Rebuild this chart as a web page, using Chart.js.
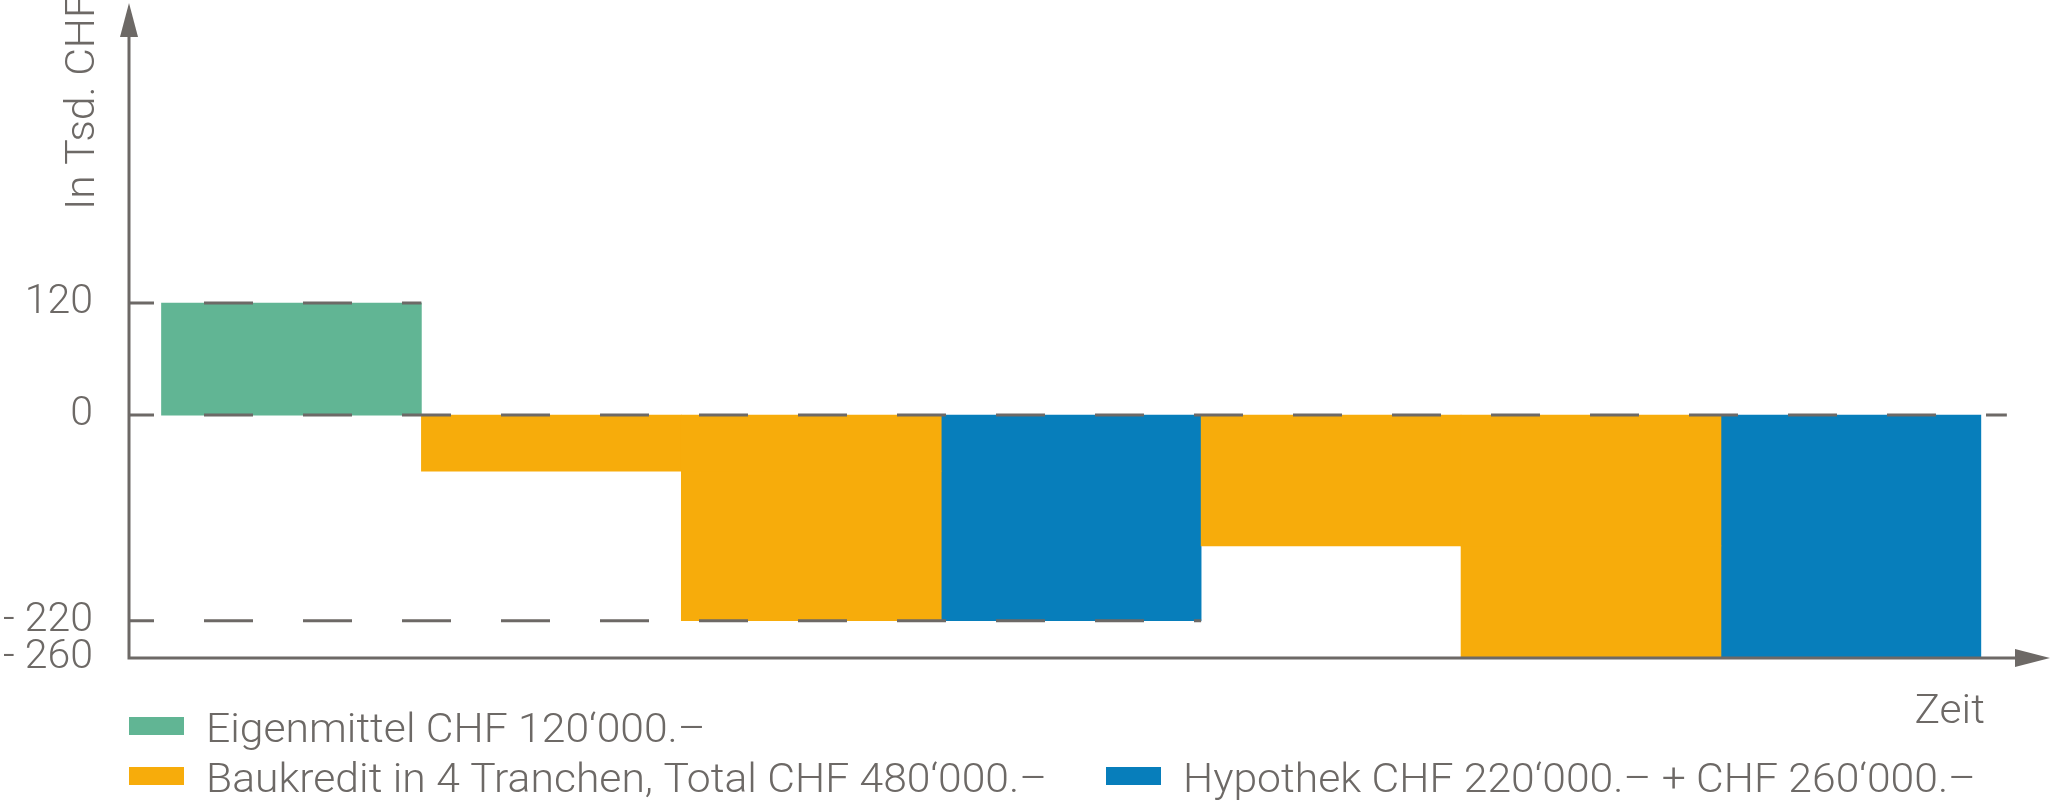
<!DOCTYPE html>
<html lang="de">
<head>
<meta charset="utf-8">
<title>Finanzierung</title>
<script src="https://cdn.jsdelivr.net/npm/chart.js@4.4.1/dist/chart.umd.min.js"></script>
<style>
    html, body { margin: 0; padding: 0; background: #fff; }
    #wrap { width: 2051px; height: 801px; }
</style>
</head>
<body>
<div id="wrap"><canvas id="grafik" width="2051" height="801"></canvas></div>
<script>
// Zeitabschnitte (x) und Werte in Tsd. CHF
const perioden = [1, 2, 3, 4, 5, 6, 7];
const eigenmittel = [[0, 120], null, null, null, null, null, null];
const baukredit = [null, [0, -60], [0, -60], null, [0, -140], [0, -140], null];
const baukreditTranche = [null, null, [-60, -220], null, null, [-140, -260], null];
const hypothek = [null, null, null, [0, -220], null, null, [0, -260]];

const yTicks = [-260, -220, 0, 120];
const yTickTexte = ["- 260", "- 220", "0", "120"];
const hilfslinien = [120, 0, -220];
const hilfslinienBis = [1, 7.1, 4];

const legendeTexte = [
    "Eigenmittel CHF 120‘000.–",
    "Baukredit in 4 Tranchen, Total CHF 480‘000.–",
    "Hypothek CHF 220‘000.– + CHF 260‘000.–"
];

const GRUEN = "#61b594";
const ORANGE = "#f7ac0b";
const BLAU = "#077ebb";
const GRAU = "#6d6966";
const FAMILIE = "Roboto";
const GEWICHT = 300;
const GROESSE = 41;
const SCHRIFT = GEWICHT + " " + GROESSE + "px " + FAMILIE;
const BREITE = 1.04; // Schrift etwas breiter ziehen

function punkte(werte) {
    return perioden
        .map((p, i) => ({ x: p - 0.5, y: werte[i] }))
        .filter(d => d.y !== null);
}

function text(ctx, t, x, y, winkel) {
    ctx.save();
    ctx.translate(x, y);
    if (winkel) ctx.rotate(winkel);
    ctx.scale(BREITE, 1);
    ctx.fillText(t, 0, 0);
    ctx.restore();
}

const zeichnung = {
    id: "zeichnung",
    afterDatasetsDraw(chart) {
        const ctx = chart.ctx;
        const x = chart.scales.x;
        const y = chart.scales.y;
        const links = chart.chartArea.left;

        // gestrichelte Hilfslinien
        ctx.save();
        ctx.strokeStyle = GRAU;
        ctx.lineWidth = 3;
        ctx.setLineDash([49, 50]);
        ctx.lineDashOffset = 24;
        hilfslinien.forEach((wert, i) => {
            const py = y.getPixelForValue(wert);
            ctx.beginPath();
            ctx.moveTo(links, py);
            ctx.lineTo(x.getPixelForValue(hilfslinienBis[i]), py);
            ctx.stroke();
        });
        ctx.restore();

        // Achsen mit Pfeilen
        const { top, right, bottom } = chart.chartArea;
        ctx.save();
        ctx.strokeStyle = GRAU;
        ctx.fillStyle = GRAU;
        ctx.lineWidth = 3;
        ctx.beginPath();
        ctx.moveTo(links, bottom + 1.5);
        ctx.lineTo(links, top + 30);
        ctx.moveTo(links - 1.5, bottom);
        ctx.lineTo(right - 30, bottom);
        ctx.stroke();

        ctx.beginPath();
        ctx.moveTo(links, top - 1);
        ctx.lineTo(links - 9, top + 33);
        ctx.lineTo(links + 9, top + 33);
        ctx.closePath();
        ctx.fill();

        ctx.beginPath();
        ctx.moveTo(right, bottom);
        ctx.lineTo(right - 35, bottom - 9);
        ctx.lineTo(right - 35, bottom + 9);
        ctx.closePath();
        ctx.fill();

        // Achsentitel
        ctx.font = SCHRIFT;
        ctx.textBaseline = "alphabetic";
        ctx.textAlign = "left";
        text(ctx, "In Tsd. CHF", 94, 210, -Math.PI / 2);

        ctx.textAlign = "right";
        text(ctx, "Zeit", x.getPixelForValue(7) + 4, 723);

        // Legende
        const eintraege = [
            { farbe: GRUEN, px: links, zeile: 0 },
            { farbe: ORANGE, px: links, zeile: 1 },
            { farbe: BLAU, px: 1106, zeile: 1 }
        ];
        ctx.textAlign = "left";
        eintraege.forEach((e, i) => {
            const oben = 717 + e.zeile * 50;
            ctx.fillStyle = e.farbe;
            ctx.fillRect(e.px, oben, 55, 18);
            ctx.fillStyle = GRAU;
            text(ctx, legendeTexte[i], e.px + 77, oben + 25);
        });
        ctx.restore();
    }
};

const datensatz = (label, werte, farbe) => ({
    label: label,
    data: punkte(werte),
    backgroundColor: farbe,
    borderWidth: 0,
    grouped: false,
    barPercentage: 1,
    categoryPercentage: 1
});

new Chart(document.getElementById("grafik"), {
    type: "bar",
    data: {
        datasets: [
            datensatz("Eigenmittel", eigenmittel, GRUEN),
            datensatz("Baukredit", baukredit, ORANGE),
            datensatz("Baukredit Tranche", baukreditTranche, ORANGE),
            datensatz("Hypothek", hypothek, BLAU)
        ]
    },
    options: {
        responsive: false,
        animation: false,
        events: [],
        layout: { padding: { top: 4, bottom: 143, left: 0, right: 1 } },
        plugins: {
            legend: { display: false },
            tooltip: { enabled: false }
        },
        scales: {
            x: {
                type: "linear",
                min: -0.125,
                max: 7.266,
                offset: false,
                display: false,
                afterBuildTicks: s => { s.ticks = [0, ...perioden].map(v => ({ value: v })); }
            },
            y: {
                min: -260,
                max: 440,
                afterBuildTicks: s => { s.ticks = yTicks.map(v => ({ value: v })); },
                afterFit: s => {
                    s.width = 129;
                    s.paddingTop = 0;
                    s.paddingBottom = 0;
                },
                grid: { display: false, drawTicks: false },
                border: { display: false },
                ticks: {
                    autoSkip: false,
                    padding: 36,
                    color: GRAU,
                    font: { family: FAMILIE, size: GROESSE, weight: GEWICHT },
                    callback: v => yTickTexte[yTicks.indexOf(v)]
                }
            }
        }
    },
    plugins: [zeichnung]
});
</script>
</body>
</html>
